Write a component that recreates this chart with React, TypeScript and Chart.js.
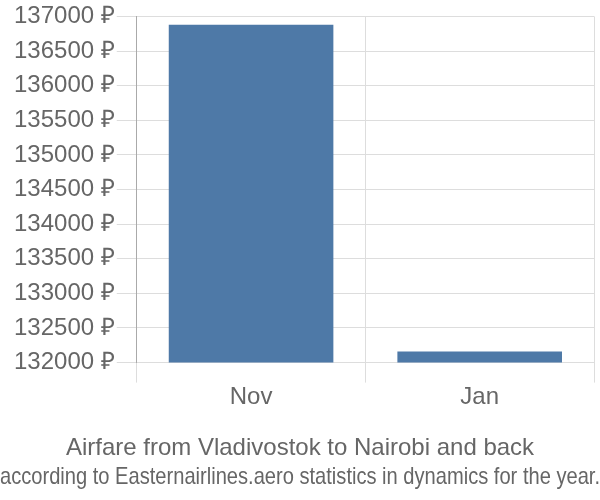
import React, { useEffect, useRef } from "react";
import { Chart, registerables } from "chart.js";

Chart.register(...registerables);

const categories = ["Nov", "Jan"];
const prices = [136880, 132160];
const yMin = 132000;
const yMax = 137000;
const yStep = 500;
const titleLines = [
  "Airfare from Vladivostok to Nairobi and back",
  "according to Easternairlines.aero statistics in dynamics for the year.",
];

export default function App() {
  const ref = useRef<HTMLCanvasElement>(null);
  useEffect(() => {
    if (!ref.current) return;
    const font = { family: "'Liberation Sans', Arial, sans-serif", size: 24 };
    const chart = new Chart(ref.current, {
      type: "bar",
      data: {
        labels: categories,
        datasets: [
          {
            data: prices,
            backgroundColor: "#4e79a7",
            borderWidth: 0,
          },
        ],
      },
      options: {
        animation: false,
        responsive: true,
        maintainAspectRatio: false,
        layout: { padding: { right: 0, top: 0, left: 0, bottom: 8 } },
        plugins: {
          legend: { display: false },
          tooltip: { enabled: false },
          title: {
            display: true,
            position: "bottom",
            text: titleLines,
            color: "#666",
            font: { ...font, size: 24, weight: "normal" },
            padding: { top: 23, bottom: 0 },
            lineHeight: 1.25,
          } as any,
        },
        scales: {
          x: {
            grid: { color: "#ddd", tickLength: 20, lineWidth: 1 },
            border: { color: "#ddd" },
            ticks: { color: "#666", font, padding: 0 },
          },
          y: {
            min: yMin,
            max: yMax,
            grid: { color: "#ddd", tickLength: 20 },
            border: { color: "#aaa" },
            afterFit: (s: any) => {
              s.width += 12;
            },
            ticks: {
              stepSize: yStep,
              color: "#666",
              font,
              padding: 2,
              callback: (v: any) => `${v} ₽`,
            },
          },
          yRight: {
            position: "right",
            display: true,
            grid: { display: false },
            border: { display: false },
            ticks: { display: false },
            afterFit: (s: any) => {
              s.width = 6;
            },
          },
        },
      },
    });
    return () => chart.destroy();
  }, []);
  return (
    <div style={{ position: "fixed", left: 0, top: 0, width: 600, height: 500 }}>
      <canvas ref={ref} />
    </div>
  );
}
